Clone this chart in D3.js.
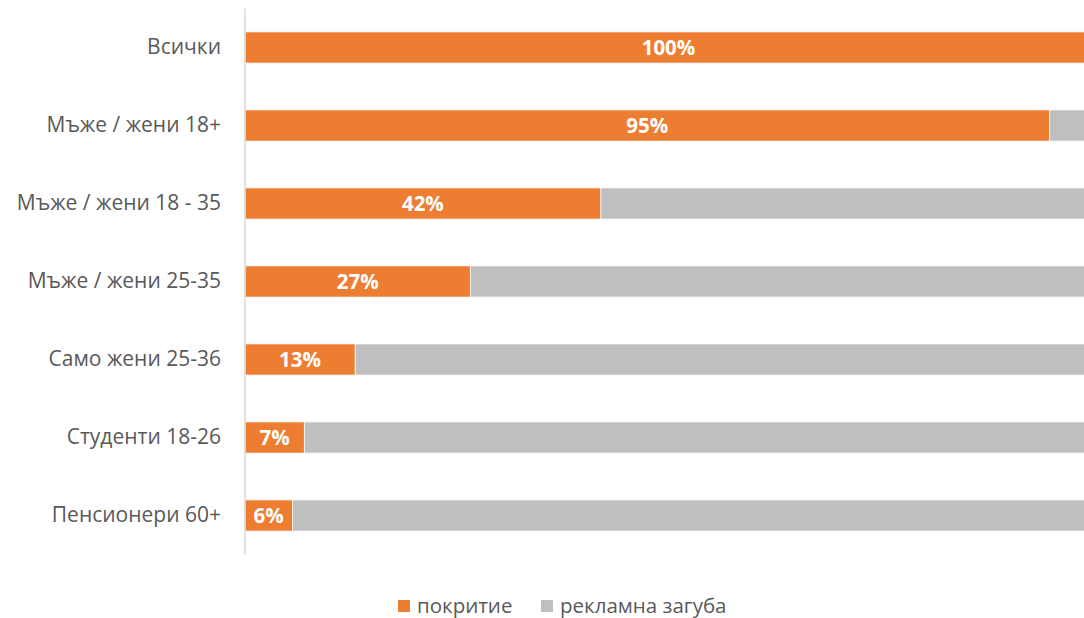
<!DOCTYPE html>
<html>
<head>
<meta charset="utf-8">
<script src="https://cdn.jsdelivr.net/npm/d3@7"></script>
<style>
  body { margin: 0; background: #fff; }
  svg { display: block; font-family: "Open Sans", sans-serif; }
</style>
</head>
<body>
<svg id="chart" width="1084" height="618"></svg>
<script>
const categories = ["Всички", "Мъже / жени 18+", "Мъже / жени 18 - 35", "Мъже / жени 25-35",
    "Само жени 25-36", "Студенти 18-26", "Пенсионери 60+"];
const coverage = [100, 95, 42, 26.6, 13, 7, 5.6];   // покритие
const loss = coverage.map(v => 100 - v);            // рекламна загуба
const seriesNames = ["покритие", "рекламна загуба"];
const colors = ["#ed7d31", "#bfbfbf"];

const svg = d3.select("#chart");
const margin = { top: 8.5, left: 245 };

const x = d3.scaleLinear().domain([0, 100]).range([margin.left, 1092]);
const y = d3.scaleBand().domain(categories).range([margin.top, 554.5])
    .paddingInner(0.6).paddingOuter(0.3);

const rows = categories.map((c, i) => ({ cat: c, cov: coverage[i], loss: loss[i] }));

// gray part first, then orange on top
svg.append("g").selectAll("rect.loss")
    .data(rows.filter(d => d.loss > 0))
    .enter().append("rect")
    .attr("class", "loss")
    .attr("x", d => x(d.cov))
    .attr("y", d => y(d.cat))
    .attr("width", d => x(100) - x(d.cov))
    .attr("height", y.bandwidth())
    .attr("fill", colors[1])
    .attr("stroke", "#fff")
    .attr("stroke-width", 0.8);

svg.append("g").selectAll("rect.cov")
    .data(rows)
    .enter().append("rect")
    .attr("class", "cov")
    .attr("x", x(0))
    .attr("y", d => y(d.cat))
    .attr("width", d => x(d.cov) - x(0))
    .attr("height", y.bandwidth())
    .attr("fill", colors[0])
    .attr("stroke", "#fff")
    .attr("stroke-width", 0.8);

// value labels
svg.append("g").selectAll("text")
    .data(rows)
    .enter().append("text")
    .attr("x", d => (x(0) + x(d.cov)) / 2)
    .attr("y", d => y(d.cat) + y.bandwidth() / 2)
    .attr("dy", "0.36em")
    .attr("text-anchor", "middle")
    .attr("fill", "#fff")
    .style("font-weight", "bold")
    .style("font-size", "20.5px")
    .text(d => Math.round(d.cov) + "%");

// y axis
const yAxis = svg.append("g")
    .attr("transform", `translate(${margin.left},0)`)
    .call(d3.axisLeft(y).tickSize(0).tickPadding(24));
yAxis.select(".domain").attr("stroke", "#d9d9d9").attr("stroke-width", 1.5)
    .attr("d", `M0,${margin.top}V554.5`);
yAxis.selectAll("text").attr("fill", "#595959").style("font-size", "21px")
    .style("font-family", "'Open Sans', sans-serif");

// legend
const legendX = [398, 541];
const legend = svg.append("g").selectAll("g")
    .data(seriesNames)
    .enter().append("g")
    .attr("transform", (d, i) => `translate(${legendX[i]},606)`);
legend.append("rect")
    .attr("x", 0).attr("y", -6).attr("width", 12).attr("height", 12)
    .attr("fill", (d, i) => colors[i]);
legend.append("text")
    .attr("x", 19).attr("dy", "0.36em")
    .attr("fill", "#595959")
    .style("font-size", "20.5px")
    .text(d => d);
</script>
</body>
</html>
